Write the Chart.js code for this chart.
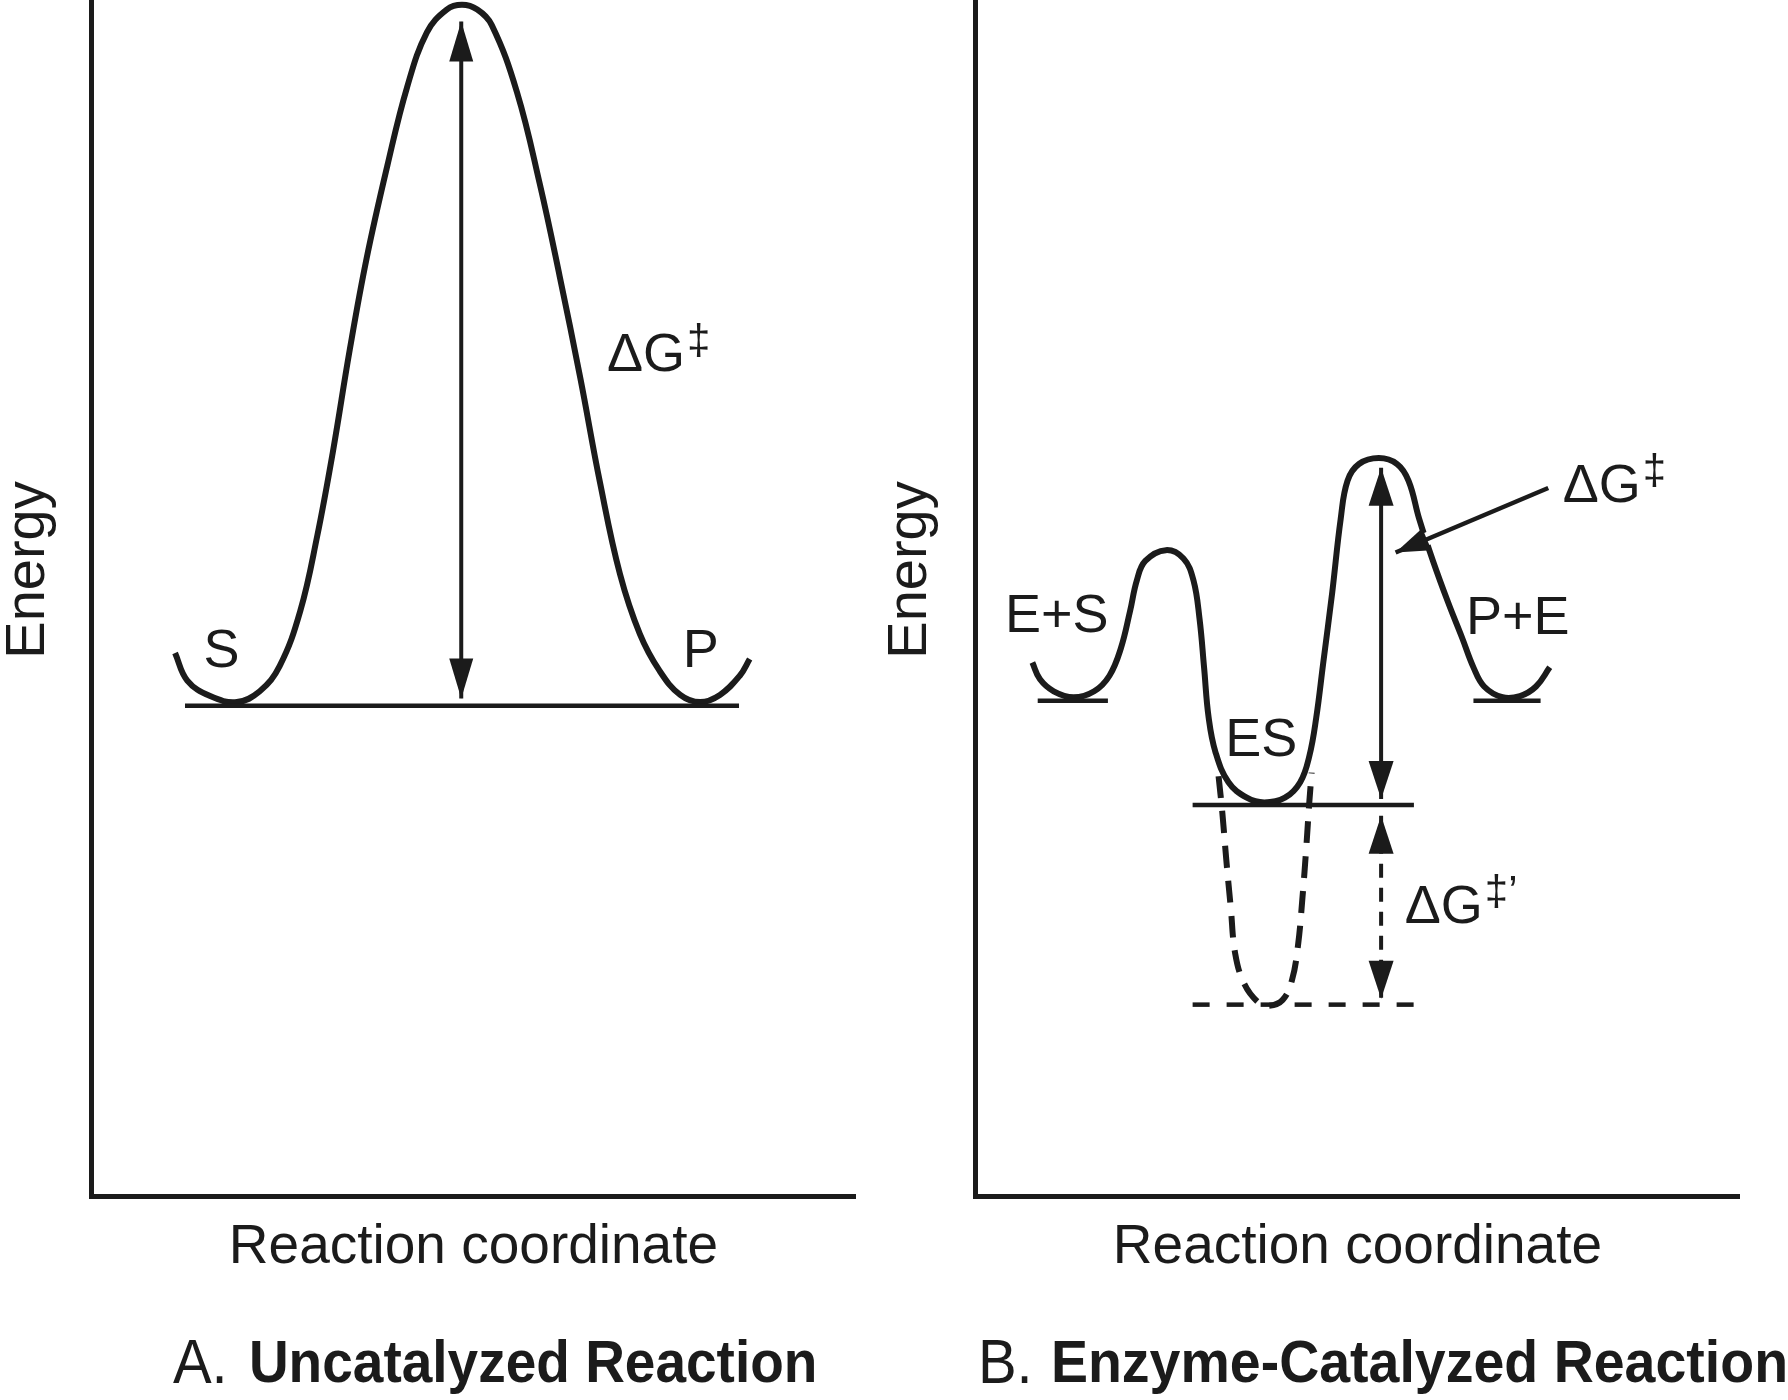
<!DOCTYPE html>
<html>
<head>
<meta charset="utf-8">
<title>Energy diagrams: uncatalyzed vs enzyme-catalyzed reaction</title>
<script src="https://cdn.jsdelivr.net/npm/chart.js@4.4.1/dist/chart.umd.min.js"></script>
<style>
  html, body { margin: 0; padding: 0; background: #fff; }
  #wrap { position: relative; width: 1788px; height: 1400px; overflow: hidden; }
  #panelA { position: absolute; left: 0; top: 0; }
  #panelB { position: absolute; left: 880px; top: 0; }
</style>
</head>
<body>
<div id="wrap">
  <canvas id="panelA" width="880" height="1400"></canvas>
  <canvas id="panelB" width="908" height="1400"></canvas>
</div>
<script>
// values: x = reaction coordinate, y = energy (both 0-100)

// A. uncatalyzed reaction
const uncatX = [10.9, 12.5, 15.5, 19.0, 22.0, 24.6, 27.3, 29.5, 31.6, 33.8, 36.0, 38.7, 41.3, 43.9, 46.5, 48.5,
                50.5, 52.4, 55.7, 58.7, 61.3, 64.0, 66.6, 69.2, 71.8, 74.4, 77.1, 79.7, 82.3, 84.9, 86.2];
const uncatY = [45.4, 43.1, 41.8, 41.3, 42.2, 44.3, 48.9, 55.1, 62.3, 70.8, 78.4, 86.1, 92.7, 97.3, 99.2, 99.6,
                99.2, 97.9, 92.3, 84.6, 76.9, 68.4, 59.6, 52.0, 47.0, 43.9, 41.9, 41.3, 41.9, 43.5, 44.9];
const groundAX = [12.2, 84.8];
const groundAY = [41.0, 41.0];
const barrierAX = [48.4, 48.4];
const barrierAY = [98.2, 41.6];

// B. enzyme-catalyzed reaction
const enzX = [7.4, 8.4, 10.2, 12.8, 15.5, 17.5, 19.0, 20.2, 21.1, 22.2, 24.9, 27.2, 28.5, 29.3, 29.9, 30.5,
              31.4, 33.1, 35.5, 37.8, 40.5, 42.5, 43.7, 44.6, 45.5, 46.7, 47.8, 48.7, 50.2, 52.8, 55.2, 56.7,
              58.1, 59.9, 61.9, 63.7, 65.2, 66.6, 69.0, 71.3, 73.4, 75.2];
const enzY = [44.6, 43.2, 42.2, 41.7, 42.2, 43.5, 45.8, 48.9, 51.5, 53.1, 54.0, 53.3, 51.5, 48.3, 44.2, 40.0,
              37.1, 34.6, 33.3, 32.9, 33.3, 34.6, 36.8, 40.0, 44.5, 50.5, 56.6, 59.8, 61.2, 61.7, 61.2, 59.8,
              56.6, 53.1, 49.6, 46.7, 44.2, 42.6, 41.7, 41.8, 42.6, 44.2];
// hypothetical tight ES complex (dashed well)
const tightX = [31.8, 32.3, 32.8, 33.4, 34.0, 35.2, 37.0, 38.4, 40.2, 41.4, 42.2, 42.8, 43.3, 43.7, 44.0];
const tightY = [35.1, 32.0, 28.2, 24.1, 20.2, 17.7, 16.2, 15.9, 16.4, 18.0, 20.9, 25.0, 29.2, 33.0, 35.4];

const levelESX = [8.1, 17.3];   const levelESY = [41.4, 41.4];   // E+S
const levelPEX = [65.2, 74.0];  const levelPEY = [41.4, 41.4];   // P+E
const levelCX = [28.4, 57.4];   const levelCY = [32.7, 32.7];    // ES
const levelTX = [28.4, 57.4];   const levelTY = [16.0, 16.0];    // tight ES
const barrierBX = [53.1, 53.1]; const barrierBY = [60.9, 33.2];
const extraBX = [53.1, 53.1];   const extraBY = [31.8, 16.5];
const pointerX = [75.0, 55.0];  const pointerY = [59.2, 53.8];
const haloX = [60.8, 58.2];     const haloY = [55.4, 54.7];

const labelsA = [
  { text: 'S', x: 17.0, y: 45.5 },
  { text: 'P', x: 79.8, y: 45.5 },
  { text: 'ΔG', sup: '‡', x: 67.5, y: 70.2, align: 'left' }
];
const labelsB = [
  { text: 'E+S', x: 10.6, y: 48.4 },
  { text: 'P+E', x: 71.0, y: 48.2 },
  { text: 'ES', x: 37.4, y: 38.0 },
  { text: 'ΔG', sup: '‡', x: 76.9, y: 59.3, align: 'left' },
  { text: 'ΔG', sup: '‡’', x: 56.2, y: 24.1, align: 'left' }
];

const INK = '#1b1b1b';
const FONT = "'Liberation Sans', Arial, Helvetica, sans-serif";

function pts(xs, ys) {
  return xs.map((x, i) => ({ x: x, y: ys[i] }));
}

function curve(xs, ys, width, dash, order) {
  return {
    data: pts(xs, ys),
    showLine: true,
    borderColor: INK,
    borderWidth: width,
    borderDash: dash || [],
    pointRadius: 0,
    tension: 0.4,
    order: order
  };
}

function straight(xs, ys, width, dash, order, color) {
  return {
    data: pts(xs, ys),
    showLine: true,
    borderColor: color || INK,
    borderWidth: width,
    borderDash: dash || [],
    borderCapStyle: 'butt',
    pointRadius: 0,
    tension: 0,
    order: order
  };
}

// filled arrow heads at the ends of datasets flagged with "heads"
const arrowHeads = {
  id: 'arrowHeads',
  afterDatasetsDraw(chart) {
    const ctx = chart.ctx;
    chart.data.datasets.forEach((ds, i) => {
      if (!ds.heads) return;
      const p = chart.getDatasetMeta(i).data;
      const ends = [];
      if (ds.heads.includes('start')) ends.push([p[0], p[1]]);
      if (ds.heads.includes('end')) ends.push([p[p.length - 1], p[p.length - 2]]);
      ends.forEach(([tip, from]) => {
        const ang = Math.atan2(tip.y - from.y, tip.x - from.x);
        const len = ds.headSize[0], half = ds.headSize[1];
        ctx.save();
        ctx.translate(tip.x, tip.y);
        ctx.rotate(ang);
        ctx.beginPath();
        ctx.moveTo(0, 0);
        ctx.lineTo(-len, -half);
        ctx.lineTo(-len, half);
        ctx.closePath();
        ctx.fillStyle = INK;
        ctx.fill();
        ctx.restore();
      });
    });
  }
};

// state labels and the panel caption
const diagramText = {
  id: 'diagramText',
  afterDraw(chart, args, opts) {
    const { ctx, chartArea } = chart;
    const sx = chart.scales.x, sy = chart.scales.y;
    ctx.save();
    ctx.fillStyle = INK;
    ctx.textBaseline = 'middle';
    (opts.labels || []).forEach(l => {
      const px = sx.getPixelForValue(l.x), py = sy.getPixelForValue(l.y);
      ctx.font = opts.size + 'px ' + FONT;
      ctx.textAlign = l.align || 'center';
      ctx.fillText(l.text, px, py);
      if (l.sup) {
        const w = ctx.measureText(l.text).width;
        const start = l.align === 'left' ? px + w : px + w / 2;
        ctx.font = opts.supSize + 'px ' + FONT;
        ctx.textAlign = 'left';
        ctx.fillText(l.sup, start + 2, py - opts.supRise);
      }
    });
    const c = opts.caption;
    if (c) {
      ctx.textAlign = 'left';
      c.parts.forEach(part => {
        ctx.save();
        ctx.translate(chartArea.left + part.dx, chartArea.bottom + c.dy);
        ctx.scale(1, c.stretch);
        ctx.font = (part.bold ? 'bold ' : '') + part.size + 'px ' + FONT;
        ctx.fillText(part.text, 0, 0);
        ctx.restore();
      });
    }
    ctx.restore();
  }
};

function axes(yPad) {
  const common = {
    type: 'linear',
    min: 0,
    max: 100,
    grid: { display: false, drawTicks: false },
    ticks: { display: false },
    border: { display: true, color: INK, width: 5 }
  };
  return {
    x: Object.assign({}, common, {
      title: { display: true, text: 'Reaction coordinate', color: INK,
               font: { family: FONT, size: 55, lineHeight: 1 }, padding: { top: 24, bottom: 0 } }
    }),
    y: Object.assign({}, common, {
      // two en spaces lift the word to where it sits in the figure
      title: { display: true, text: '\u2002\u2002Energy', color: INK,
               font: { family: FONT, size: 56, lineHeight: 0.9 }, padding: yPad }
    })
  };
}

function baseOptions(yPad, rightPad, textOpts) {
  return {
    responsive: false,
    devicePixelRatio: 1,
    animation: false,
    events: [],
    layout: { padding: { left: 0, top: 0, right: rightPad, bottom: 125 } },
    scales: axes(yPad),
    plugins: {
      legend: { display: false },
      tooltip: { enabled: false },
      diagramText: textOpts
    }
  };
}

// Panel A
const barrierA = straight(barrierAX, barrierAY, 4, null, 1);
barrierA.heads = ['start', 'end'];
barrierA.headSize = [40, 12];

new Chart(document.getElementById('panelA'), {
  type: 'scatter',
  data: {
    datasets: [
      curve(uncatX, uncatY, 6, null, 5),
      straight(groundAX, groundAY, 4.5, null, 4),
      barrierA
    ]
  },
  options: baseOptions({ top: 3.6, bottom: 37.9 }, 25, {
    labels: labelsA, size: 54, supSize: 42, supRise: 14,
    caption: { dy: 170, stretch: 1.07,
               parts: [{ text: 'A.', dx: 81, size: 58 },
                       { text: 'Uncatalyzed Reaction', dx: 157, size: 55, bold: true }] }
  }),
  plugins: [arrowHeads, diagramText]
});

// Panel B
const barrierB = straight(barrierBX, barrierBY, 4, null, 1);
barrierB.heads = ['start', 'end'];
barrierB.headSize = [38, 12.5];

const extraB = straight(extraBX, extraBY, 4, [14, 10], 1);
extraB.heads = ['start', 'end'];
extraB.headSize = [38, 12.5];

const pointer = straight(pointerX, pointerY, 4.5, null, 0);
pointer.heads = ['end'];
pointer.headSize = [34, 12];

new Chart(document.getElementById('panelB'), {
  type: 'scatter',
  data: {
    datasets: [
      curve(enzX, enzY, 6, null, 5),
      curve(tightX, tightY, 6, [22, 13], 5),
      straight(levelESX, levelESY, 4.5, null, 4),
      straight(levelPEX, levelPEY, 4.5, null, 4),
      straight(levelCX, levelCY, 4.5, null, 4),
      straight(levelTX, levelTY, 4.5, [17, 17], 4),
      barrierB,
      extraB,
      straight(haloX, haloY, 13, null, 2, '#ffffff'),
      pointer
    ]
  },
  options: baseOptions({ top: 5.2, bottom: 40.3 }, 49, {
    labels: labelsB, size: 54, supSize: 42, supRise: 14,
    caption: { dy: 170, stretch: 1.07,
               parts: [{ text: 'B.', dx: 2, size: 58 },
                       { text: 'Enzyme-Catalyzed Reaction', dx: 75, size: 55.5, bold: true }] }
  }),
  plugins: [arrowHeads, diagramText]
});
</script>
</body>
</html>
